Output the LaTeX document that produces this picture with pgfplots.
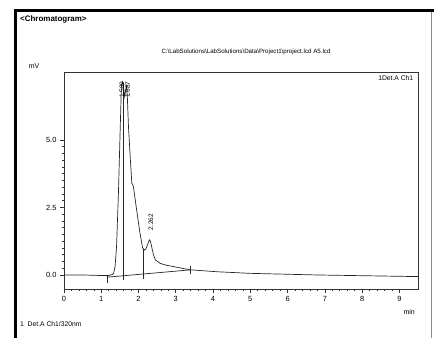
\documentclass[border=0pt]{standalone}
\usepackage{pgfplots}
\pgfplotsset{compat=1.18}
\usepackage{fontspec}
\setmainfont{Liberation Sans}
\begin{document}
\begin{tikzpicture}[x=1bp,y=1bp]
\useasboundingbox (0,0) rectangle (434,338);
% outer frame
\draw[line width=3bp,black] (15.5,0) -- (15.5,327.5) -- (434,327.5);
\draw[line width=0.6bp,black!45] (431,0) -- (431,326);
\node[anchor=west,font=\fontsize{8}{9}\selectfont\bfseries,inner sep=0] at (20,319) {<Chromatogram>};
\node[font=\fontsize{6.2}{7}\selectfont,inner sep=0] at (246,286) {C:\textbackslash LabSolutions\textbackslash LabSolutions\textbackslash Data\textbackslash Project1\textbackslash project.lcd A5.lcd};
\node[font=\fontsize{7}{8}\selectfont,inner sep=0] at (34,272) {mV};
\node[anchor=west,font=\fontsize{6.8}{7}\selectfont,inner sep=0] at (20,14) {1\ \ Det.A Ch1/320nm};
\begin{axis}[
  at={(64bp,49bp)}, anchor=south west,
  scale only axis, width=354bp, height=217bp,
  xmin=0, xmax=9.5, ymin=-0.52, ymax=7.52,
  axis line style={black!80, line width=0.8bp},
  xtick={0,1,...,9}, ytick={0,2.5,5},
  yticklabels={0.0,2.5,5.0},
  minor x tick num=4, minor y tick num=9,
  xtick pos=bottom, ytick pos=left, tick align=outside,
  major tick length=4bp, minor tick length=2bp,
  tick style={black!80, line width=0.6bp},
  tick label style={font=\fontsize{7.5}{8}\selectfont},
  /pgf/number format/assume math mode=true,
  clip=false,
]
\addplot[black!85, line width=0.7bp] coordinates {
(0,0.0) (0.5,0.0) (1.0,-0.02) (1.2,-0.02) (1.3,0.02) (1.33,0.06) (1.37,0.3) (1.41,1.05)
(1.46,3.0) (1.51,5.5) (1.54,7.0) (1.57,7.15) (1.60,6.9) (1.63,6.6) (1.66,6.9) (1.68,7.0)
(1.70,6.6) (1.73,5.5) (1.78,4.3) (1.82,3.4) (1.86,3.3) (1.90,2.9) (1.95,2.4) (2.04,1.54)
(2.11,1.0) (2.16,0.92) (2.20,0.97) (2.25,1.15) (2.29,1.3) (2.32,1.25) (2.36,1.0) (2.40,0.75)
(2.45,0.56) (2.58,0.43) (2.75,0.36) (2.94,0.31) (3.2,0.24) (3.4,0.19) (4.1,0.12) (5.0,0.06)
(5.9,0.03) (6.8,0.0) (7.7,-0.02) (8.6,-0.04) (9.5,-0.06)
};
% integration baseline
\addplot[black!85, line width=0.7bp] coordinates {(1.17,-0.08) (3.4,0.19)};
% peak markers
\addplot[black!85, line width=0.6bp] coordinates {(1.59,-0.2) (1.59,7.1)};
\addplot[black!85, line width=0.6bp] coordinates {(2.13,-0.15) (2.13,0.98)};
\addplot[black!85, line width=0.6bp] coordinates {(1.17,-0.3) (1.17,0.0)};
\addplot[black!85, line width=0.6bp] coordinates {(3.4,0.05) (3.4,0.33)};
\node[rotate=90,anchor=south west,font=\fontsize{6.5}{7}\selectfont,inner sep=0.3bp] at (axis cs:1.63,6.55) {1.589};
\node[rotate=90,anchor=north west,font=\fontsize{6.5}{7}\selectfont,inner sep=0.3bp] at (axis cs:1.63,6.55) {1.687};
\node[rotate=90,anchor=west,font=\fontsize{6.5}{7}\selectfont,inner sep=0] at (axis cs:2.33,1.65) {2.262};
\node[anchor=north east,font=\fontsize{6.8}{7}\selectfont,inner sep=1bp] at (rel axis cs:0.99,0.99) {1Det.A Ch1};
\node[font=\fontsize{7}{8}\selectfont,inner sep=0] at (rel axis cs:0.975,-0.105) {min};
\end{axis}
\end{tikzpicture}
\end{document}
